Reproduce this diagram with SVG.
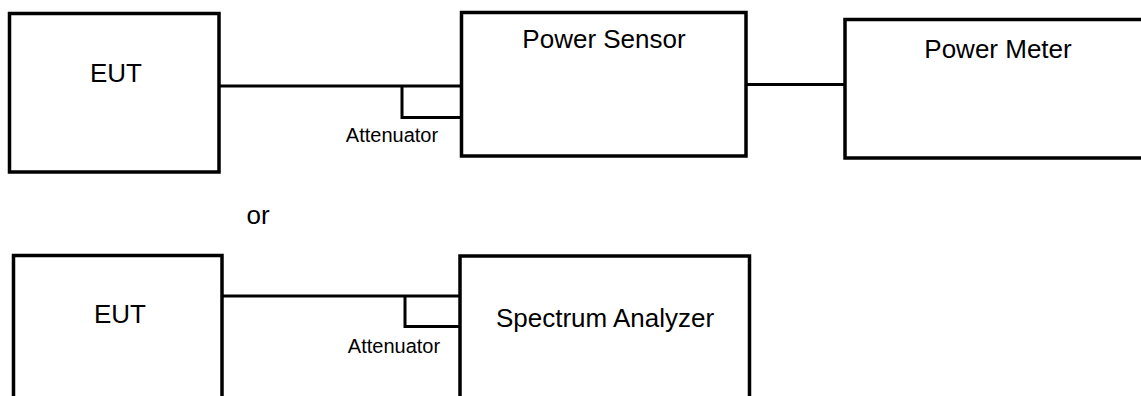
<svg xmlns="http://www.w3.org/2000/svg" width="1141" height="396" viewBox="0 0 1141 396">
  <style>
    .box { fill: #ffffff; stroke: #000000; stroke-width: 3.5; }
    .wire { fill: none; stroke: #000000; stroke-width: 3; }
    .lbl { font-family: "Liberation Sans", Arial, sans-serif; font-size: 26px; fill: #000000; text-anchor: middle; }
    .small { font-family: "Liberation Sans", Arial, sans-serif; font-size: 20px; fill: #000000; text-anchor: middle; }
  </style>
  <rect width="1141" height="396" fill="#ffffff"/>

  <g id="connectors">
    <line class="wire" x1="219" y1="86" x2="402" y2="86"/>
    <line class="wire" x1="746" y1="84.5" x2="845" y2="84.5"/>
    <line class="wire" x1="222" y1="296" x2="405" y2="296"/>
  </g>

  <g id="eut-top">
    <rect class="box" x="9.5" y="13.5" width="209.5" height="158.5"/>
    <text class="lbl" x="116" y="82">EUT</text>
  </g>

  <g id="attenuator-top">
    <path class="wire" d="M402,86 H461.5 M402,86 V117.5 H461.5"/>
    <text class="small" x="392" y="142">Attenuator</text>
  </g>

  <g id="power-sensor">
    <rect class="box" x="461.5" y="12.5" width="284.5" height="143.5"/>
    <text class="lbl" x="604" y="48">Power Sensor</text>
  </g>

  <g id="power-meter">
    <rect class="box" x="845" y="19.5" width="310" height="138.5"/>
    <text class="lbl" x="998" y="58">Power Meter</text>
  </g>

  <text class="lbl" x="258" y="224">or</text>

  <g id="eut-bottom">
    <rect class="box" x="13.5" y="255.5" width="208.5" height="160"/>
    <text class="lbl" x="120" y="323">EUT</text>
  </g>

  <g id="attenuator-bottom">
    <path class="wire" d="M405,296 H460 M405,296 V326.5 H460"/>
    <text class="small" x="394" y="353">Attenuator</text>
  </g>

  <g id="spectrum-analyzer">
    <rect class="box" x="460" y="256" width="289.5" height="160"/>
    <text class="lbl" x="605" y="327">Spectrum Analyzer</text>
  </g>
</svg>
